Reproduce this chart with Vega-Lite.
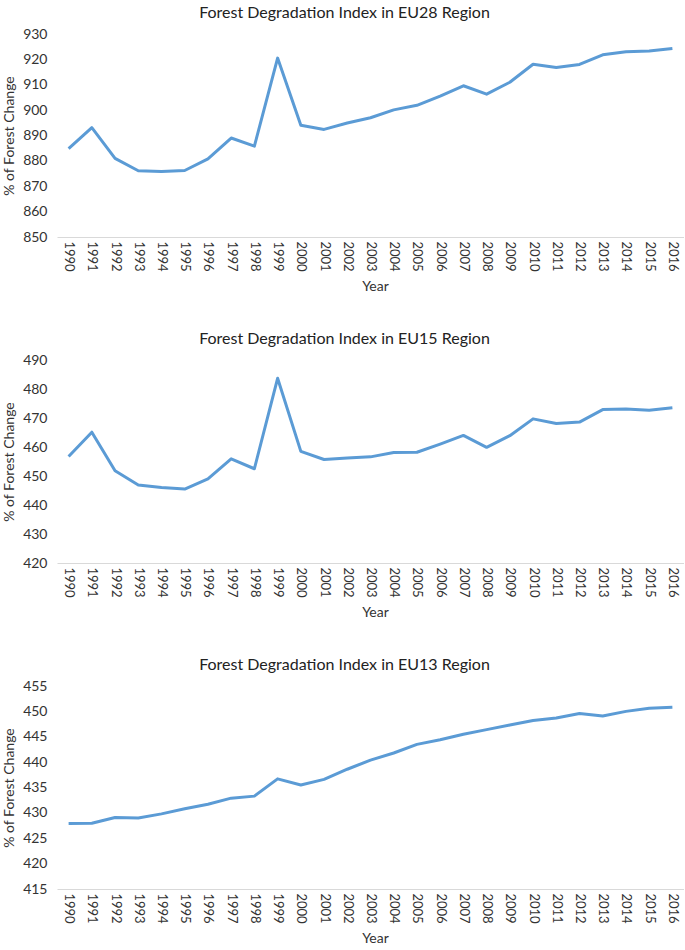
{
  "$schema": "https://vega.github.io/schema/vega-lite/v6.json",
  "background": "white",
  "padding": {"left": 2, "top": 5, "right": 0, "bottom": 0},
  "config": {
    "font": "Lato",
    "view": {"stroke": null},
    "title": {"fontSize": 16, "fontWeight": "normal", "color": "#222222", "font": "Lato", "offset": 6, "dx": -26},
    "axis": {"labelFont": "Lato", "titleFont": "Lato", "labelColor": "#333333", "titleColor": "#333333", "titleFontWeight": "normal"},
    "concat": {"spacing": 123}
  },
  "datasets": {
    "eu": [
      {"region": "EU28", "year": "1990", "value": 884.8},
      {"region": "EU28", "year": "1991", "value": 893.1},
      {"region": "EU28", "year": "1992", "value": 881.0},
      {"region": "EU28", "year": "1993", "value": 876.1},
      {"region": "EU28", "year": "1994", "value": 875.8},
      {"region": "EU28", "year": "1995", "value": 876.2},
      {"region": "EU28", "year": "1996", "value": 880.8},
      {"region": "EU28", "year": "1997", "value": 889.0},
      {"region": "EU28", "year": "1998", "value": 885.8},
      {"region": "EU28", "year": "1999", "value": 920.5},
      {"region": "EU28", "year": "2000", "value": 894.0},
      {"region": "EU28", "year": "2001", "value": 892.4},
      {"region": "EU28", "year": "2002", "value": 894.9},
      {"region": "EU28", "year": "2003", "value": 897.0},
      {"region": "EU28", "year": "2004", "value": 900.1},
      {"region": "EU28", "year": "2005", "value": 901.9},
      {"region": "EU28", "year": "2006", "value": 905.5},
      {"region": "EU28", "year": "2007", "value": 909.6},
      {"region": "EU28", "year": "2008", "value": 906.3},
      {"region": "EU28", "year": "2009", "value": 911.0},
      {"region": "EU28", "year": "2010", "value": 918.1},
      {"region": "EU28", "year": "2011", "value": 916.8},
      {"region": "EU28", "year": "2012", "value": 918.0},
      {"region": "EU28", "year": "2013", "value": 921.8},
      {"region": "EU28", "year": "2014", "value": 923.0},
      {"region": "EU28", "year": "2015", "value": 923.3},
      {"region": "EU28", "year": "2016", "value": 924.3},
      {"region": "EU15", "year": "1990", "value": 456.7},
      {"region": "EU15", "year": "1991", "value": 465.1},
      {"region": "EU15", "year": "1992", "value": 451.8},
      {"region": "EU15", "year": "1993", "value": 446.9},
      {"region": "EU15", "year": "1994", "value": 446.0},
      {"region": "EU15", "year": "1995", "value": 445.5},
      {"region": "EU15", "year": "1996", "value": 449.0},
      {"region": "EU15", "year": "1997", "value": 455.9},
      {"region": "EU15", "year": "1998", "value": 452.5},
      {"region": "EU15", "year": "1999", "value": 483.7},
      {"region": "EU15", "year": "2000", "value": 458.5},
      {"region": "EU15", "year": "2001", "value": 455.7},
      {"region": "EU15", "year": "2002", "value": 456.2},
      {"region": "EU15", "year": "2003", "value": 456.6},
      {"region": "EU15", "year": "2004", "value": 458.1},
      {"region": "EU15", "year": "2005", "value": 458.2},
      {"region": "EU15", "year": "2006", "value": 461.0},
      {"region": "EU15", "year": "2007", "value": 464.0},
      {"region": "EU15", "year": "2008", "value": 459.9},
      {"region": "EU15", "year": "2009", "value": 463.9},
      {"region": "EU15", "year": "2010", "value": 469.7},
      {"region": "EU15", "year": "2011", "value": 468.1},
      {"region": "EU15", "year": "2012", "value": 468.6},
      {"region": "EU15", "year": "2013", "value": 472.9},
      {"region": "EU15", "year": "2014", "value": 473.1},
      {"region": "EU15", "year": "2015", "value": 472.7},
      {"region": "EU15", "year": "2016", "value": 473.5},
      {"region": "EU13", "year": "1990", "value": 427.9},
      {"region": "EU13", "year": "1991", "value": 427.95},
      {"region": "EU13", "year": "1992", "value": 429.1},
      {"region": "EU13", "year": "1993", "value": 429.0},
      {"region": "EU13", "year": "1994", "value": 429.8},
      {"region": "EU13", "year": "1995", "value": 430.8},
      {"region": "EU13", "year": "1996", "value": 431.7},
      {"region": "EU13", "year": "1997", "value": 432.9},
      {"region": "EU13", "year": "1998", "value": 433.3},
      {"region": "EU13", "year": "1999", "value": 436.7},
      {"region": "EU13", "year": "2000", "value": 435.5},
      {"region": "EU13", "year": "2001", "value": 436.6},
      {"region": "EU13", "year": "2002", "value": 438.6},
      {"region": "EU13", "year": "2003", "value": 440.4},
      {"region": "EU13", "year": "2004", "value": 441.8},
      {"region": "EU13", "year": "2005", "value": 443.5},
      {"region": "EU13", "year": "2006", "value": 444.4},
      {"region": "EU13", "year": "2007", "value": 445.5},
      {"region": "EU13", "year": "2008", "value": 446.4},
      {"region": "EU13", "year": "2009", "value": 447.3},
      {"region": "EU13", "year": "2010", "value": 448.2},
      {"region": "EU13", "year": "2011", "value": 448.7},
      {"region": "EU13", "year": "2012", "value": 449.6},
      {"region": "EU13", "year": "2013", "value": 449.1},
      {"region": "EU13", "year": "2014", "value": 450.0},
      {"region": "EU13", "year": "2015", "value": 450.6},
      {"region": "EU13", "year": "2016", "value": 450.8}
    ]
  },
  "bounds": "flush",
  "vconcat": [
    {
      "title": "Forest Degradation Index in EU28 Region",
      "width": 627, "height": 203,
      "data": {"name": "eu"},
      "transform": [{"filter": "datum.region === 'EU28'"}],
      "mark": {"type": "line", "color": "#5B9BD5", "strokeWidth": 3, "strokeJoin": "round"},
      "encoding": {
        "x": {"field": "year", "type": "ordinal", "title": "Year", "scale": {"type": "point", "padding": 0.5},
          "axis": {"labelAngle": 90, "labelAlign": "left", "labelBaseline": "middle", "labelFontSize": 13, "labelPadding": 4, "ticks": false, "domainColor": "#d9d9d9", "domainWidth": 1, "titleFontSize": 14, "titlePadding": 8, "titleX": 318}},
        "y": {"field": "value", "type": "quantitative", "title": "% of Forest Change", "scale": {"domain": [850, 930], "zero": false, "nice": false},
          "axis": {"values": [850, 860, 870, 880, 890, 900, 910, 920, 930], "grid": false, "domain": false, "ticks": false, "labelFontSize": 14, "labelPadding": 10, "titleFontSize": 14, "titlePadding": 6}}
      }
    },
    {
      "title": "Forest Degradation Index in EU15 Region",
      "width": 627, "height": 203,
      "data": {"name": "eu"},
      "transform": [{"filter": "datum.region === 'EU15'"}],
      "mark": {"type": "line", "color": "#5B9BD5", "strokeWidth": 3, "strokeJoin": "round"},
      "encoding": {
        "x": {"field": "year", "type": "ordinal", "title": "Year", "scale": {"type": "point", "padding": 0.5},
          "axis": {"labelAngle": 90, "labelAlign": "left", "labelBaseline": "middle", "labelFontSize": 13, "labelPadding": 4, "ticks": false, "domainColor": "#d9d9d9", "domainWidth": 1, "titleFontSize": 14, "titlePadding": 8, "titleX": 318}},
        "y": {"field": "value", "type": "quantitative", "title": "% of Forest Change", "scale": {"domain": [420, 490], "zero": false, "nice": false},
          "axis": {"values": [420, 430, 440, 450, 460, 470, 480, 490], "grid": false, "domain": false, "ticks": false, "labelFontSize": 14, "labelPadding": 10, "titleFontSize": 14, "titlePadding": 6}}
      }
    },
    {
      "title": "Forest Degradation Index in EU13 Region",
      "width": 627, "height": 203,
      "data": {"name": "eu"},
      "transform": [{"filter": "datum.region === 'EU13'"}],
      "mark": {"type": "line", "color": "#5B9BD5", "strokeWidth": 3, "strokeJoin": "round"},
      "encoding": {
        "x": {"field": "year", "type": "ordinal", "title": "Year", "scale": {"type": "point", "padding": 0.5},
          "axis": {"labelAngle": 90, "labelAlign": "left", "labelBaseline": "middle", "labelFontSize": 13, "labelPadding": 4, "ticks": false, "domainColor": "#d9d9d9", "domainWidth": 1, "titleFontSize": 14, "titlePadding": 8, "titleX": 318}},
        "y": {"field": "value", "type": "quantitative", "title": "% of Forest Change", "scale": {"domain": [415, 455], "zero": false, "nice": false},
          "axis": {"values": [415, 420, 425, 430, 435, 440, 445, 450, 455], "grid": false, "domain": false, "ticks": false, "labelFontSize": 14, "labelPadding": 10, "titleFontSize": 14, "titlePadding": 6}}
      }
    }
  ]
}
